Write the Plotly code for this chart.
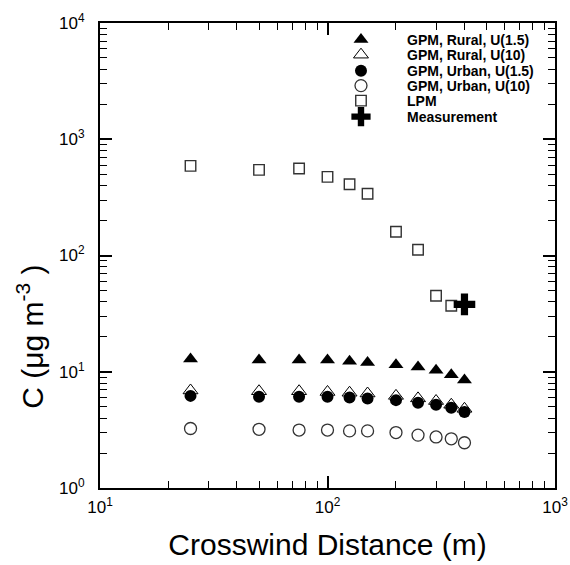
import plotly.graph_objects as go

# ---- data ----
distance = [25, 50, 75, 100, 125, 150, 200, 250, 300, 350, 400]
gpm_rural_u15 = [12.9, 12.6, 12.6, 12.6, 12.3, 12.0, 11.5, 11.0, 10.3, 9.4, 8.5]
gpm_rural_u10 = [6.9, 6.8, 6.8, 6.7, 6.6, 6.5, 6.2, 5.9, 5.6, 5.2, 4.8]
gpm_urban_u15 = [6.2, 6.1, 6.1, 6.1, 6.0, 5.9, 5.7, 5.4, 5.2, 4.9, 4.5]
gpm_urban_u10 = [3.25, 3.2, 3.15, 3.15, 3.1, 3.1, 3.0, 2.85, 2.75, 2.65, 2.45]
lpm_distance = [25, 50, 75, 100, 125, 150, 200, 250, 300, 350]
lpm_values = [590, 545, 560, 475, 410, 340, 160, 112, 45, 37]
meas_distance = [400]
meas_values = [38]

series_names = ["GPM, Rural, U(1.5)", "GPM, Rural, U(10)", "GPM, Urban, U(1.5)",
                "GPM, Urban, U(10)", "LPM", "Measurement"]

x_tickvals = [10, 100, 1000]
x_ticktext = ["10<sup>1</sup>", "10<sup>2</sup>", "10<sup>3</sup>"]
y_tickvals = [1, 10, 100, 1000, 10000]
y_ticktext = ["10<sup>0</sup>", "10<sup>1</sup>", "10<sup>2</sup>", "10<sup>3</sup>", "10<sup>4</sup>"]

FONT = "Liberation Sans, Arial, sans-serif"

fig = go.Figure()
fig.add_trace(go.Scatter(x=distance, y=gpm_rural_u15, mode="markers", name=series_names[0], legend="legend",
                         marker=dict(symbol="triangle-up", size=13, color="black")))
fig.add_trace(go.Scatter(x=distance, y=gpm_rural_u10, mode="markers", name=series_names[1], legend="legend2",
                         marker=dict(symbol="triangle-up-open", size=13, color="black", line=dict(width=1))))
fig.add_trace(go.Scatter(x=distance, y=gpm_urban_u15, mode="markers", name=series_names[2], legend="legend3",
                         marker=dict(symbol="circle", size=12, color="black")))
fig.add_trace(go.Scatter(x=distance, y=gpm_urban_u10, mode="markers", name=series_names[3], legend="legend4",
                         marker=dict(symbol="circle-open", size=12, color="#333333", line=dict(width=1.3))))
fig.add_trace(go.Scatter(x=lpm_distance, y=lpm_values, mode="markers", name=series_names[4], legend="legend5",
                         marker=dict(symbol="square-open", size=10.5, color="#333333", line=dict(width=1.4))))
fig.add_trace(go.Scatter(x=meas_distance, y=meas_values, mode="markers", name=series_names[5], legend="legend6",
                         marker=dict(symbol="cross", size=18, color="black", line=dict(width=0))))

axis_common = dict(
    type="log",
    showgrid=False,
    zeroline=False,
    showline=True,
    linecolor="black",
    linewidth=2,
    mirror="allticks",
    ticks="inside",
    ticklen=12,
    tickwidth=2,
    tickcolor="black",
    tickfont=dict(family=FONT, size=17, color="black"),
    minor=dict(ticks="inside", ticklen=7, tickwidth=1, tickcolor="black", dtick="D1", showgrid=False),
)

fig.update_xaxes(**axis_common, range=[1, 3], tickvals=x_tickvals, ticktext=x_ticktext,
                 ticklabelstandoff=3,
                 title=dict(text="Crosswind Distance (m)", font=dict(family=FONT, size=30, color="black"), standoff=18))
fig.update_yaxes(**axis_common, range=[0, 4], tickvals=y_tickvals, ticktext=y_ticktext,
                 ticklabelstandoff=10)

fig.add_annotation(text="C (μg m<sup>-3</sup> )", xref="paper", yref="paper",
                   x=-0.154, y=0.325, xanchor="center", yanchor="middle", textangle=-90,
                   showarrow=False, font=dict(family=FONT, size=30, color="black"))

legend_rows_y = [0.9634, 0.931, 0.8967, 0.8645, 0.8323, 0.7978]
legend_base = dict(x=0.4725, xanchor="left", yanchor="middle",
                   bgcolor="rgba(0,0,0,0)", borderwidth=0,
                   font=dict(family=FONT, size=14, color="black", weight="bold"),
                   itemwidth=82, tracegroupgap=0)
layout_legends = {}
for i, yy in enumerate(legend_rows_y):
    key = "legend" if i == 0 else f"legend{i + 1}"
    layout_legends[key] = dict(legend_base, y=yy)

fig.update_layout(
    width=570, height=565,
    margin=dict(l=100, r=15, t=23, b=77, autoexpand=False),
    plot_bgcolor="white",
    paper_bgcolor="white",
    showlegend=True,
    **layout_legends,
)

fig.write_html("out.html")
